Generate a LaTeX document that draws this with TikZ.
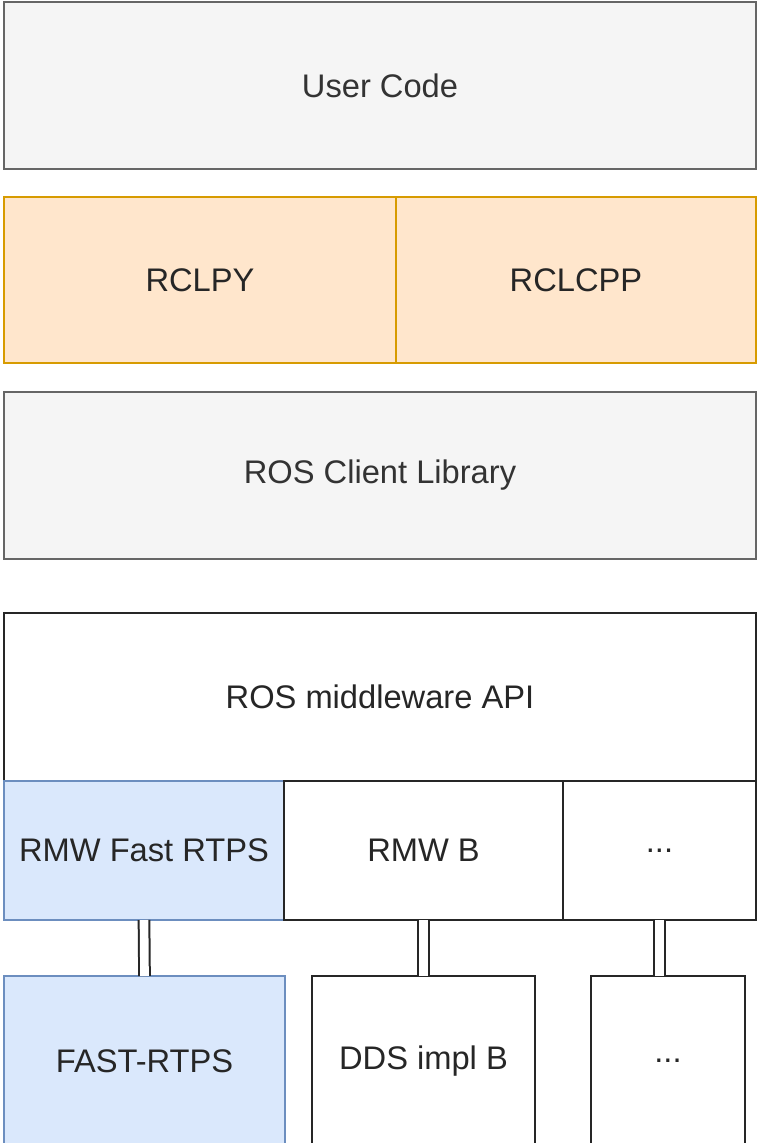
\documentclass[tikz,border=0pt]{standalone}
\usepackage{fontspec}
\setmainfont{Liberation Sans}
\usepackage{tikz}
\usetikzlibrary{positioning}

\definecolor{grayfill}{RGB}{245,245,245}
\definecolor{graydraw}{RGB}{102,102,102}
\definecolor{graytext}{RGB}{51,51,51}
\definecolor{orangefill}{RGB}{255,230,204}
\definecolor{orangedraw}{RGB}{215,155,0}
\definecolor{bluefill}{RGB}{218,232,252}
\definecolor{bluedraw}{RGB}{108,142,191}

\tikzset{
  layer/.style={rectangle, anchor=north west, inner sep=0pt, outer sep=0pt, line width=1.5pt,
    font=\fontsize{24.5}{29}\selectfont},
  graybox/.style={layer, draw=graydraw, fill=grayfill, text=graytext},
  orangebox/.style={layer, draw=orangedraw, fill=orangefill, text=black!85},
  bluebox/.style={layer, draw=bluedraw, fill=bluefill, text=black!85},
  plainbox/.style={layer, draw=black!85, fill=white, text=black!85},
  dbllink/.style={draw=black!85, double=white, double distance=6.5pt, line width=1.5pt}
}

\begin{document}
\begin{tikzpicture}[x=0.75pt,y=0.75pt,yscale=-1,xscale=1]

\useasboundingbox (0,0) rectangle (758,1143);

% Client side
\node[graybox, minimum width=564pt, minimum height=125.25pt] (user) at (4,2) {User Code};
\node[orangebox, minimum width=294pt, minimum height=124.5pt] (rclpy) at (4,197) {RCLPY};
\node[orangebox, minimum width=270pt, minimum height=124.5pt] (rclcpp) at (396,197) {RCLCPP};
\node[graybox, minimum width=564pt, minimum height=125.25pt] (rcl) at (4,392) {ROS Client Library};

% Middleware
\node[plainbox, minimum width=564pt, minimum height=126pt] (rmwapi) at (4,613) {ROS middleware API};
\node[bluebox, minimum width=210pt, minimum height=104.25pt] (rmwfast) at (4,781) {RMW Fast RTPS};
\node[plainbox, minimum width=209.25pt, minimum height=104.25pt] (rmwb) at (284,781) {RMW B};
\node[plainbox, minimum width=144.75pt, minimum height=104.25pt] (rmwdots) at (563,781) {...};

% DDS implementations
\node[bluebox, minimum width=210.75pt, minimum height=127.5pt] (fastrtps) at (4,976) {FAST-RTPS};
\node[plainbox, minimum width=167.25pt, minimum height=127.5pt] (ddsb) at (312,976) {DDS impl B};
\node[plainbox, minimum width=115.5pt, minimum height=127.5pt] (ddsdots) at (591,976) {...};

% Links
\draw[dbllink] (rmwfast.south) -- (fastrtps.north);
\draw[dbllink] (rmwb.south) -- (ddsb.north);
\draw[dbllink] (rmwdots.south) -- (rmwdots.south |- ddsdots.north);

\end{tikzpicture}
\end{document}
